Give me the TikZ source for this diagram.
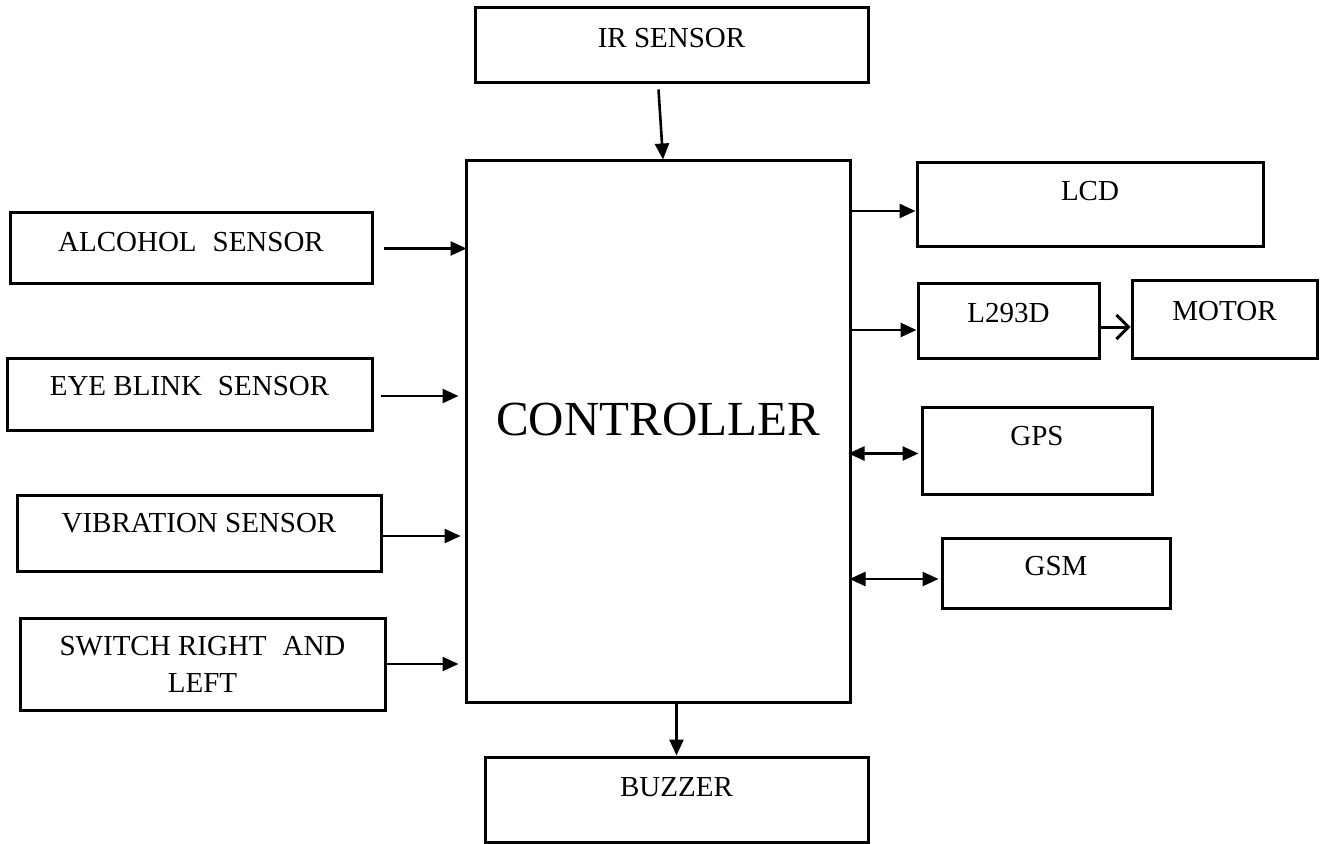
\documentclass[tikz,border=0pt]{standalone}
\usepackage{fontspec}
\setmainfont{Liberation Serif}
\usetikzlibrary{arrows.meta,fit,calc}

\tikzset{
  blk/.style={draw, line width=1.5pt, inner sep=0pt},
  txt/.style={font=\fontsize{14.5}{18.5}\selectfont, inner sep=0pt, align=center},
  arr/.style={line width=1.3pt, -{Triangle[length=8pt,width=7pt]}},
  darr/.style={line width=1.3pt, {Triangle[length=8pt,width=7pt]}-{Triangle[length=8pt,width=7pt]}},
  barb/.style={line width=1.5pt, -{Straight Barb[length=6pt,width=12pt]}}
}

\begin{document}
\begin{tikzpicture}[x=0.5pt, y=-0.5pt]
  \path[fill=white, use as bounding box] (0,0) rectangle (1320,844);
  % the controller in the middle
  \node[blk, fit={(466,161) (850,702)}] (ctrl) {};
  \node[txt, font=\fontsize{24.5}{29}\selectfont] (ctrl-t) at ([yshift=6pt]ctrl.center) {CONTROLLER};
  % inputs: top and left
  \node[blk, fit={(475,8) (868,83)}] (ir) {};
  \node[txt] (ir-t) at ([yshift=3.75pt]ir.center) {IR SENSOR};
  \node[blk, fit={(10,213) (372,284)}] (alc) {};
  \node[txt] (alc-t) at ([yshift=3pt]alc.center) {ALCOHOL\hspace{0.3em} SENSOR};
  \node[blk, fit={(7,358) (372,430)}] (eye) {};
  \node[txt] (eye-t) at ([yshift=3.75pt]eye.center) {EYE BLINK\hspace{0.3em} SENSOR};
  \node[blk, fit={(17,495) (381,571)}] (vib) {};
  \node[txt] (vib-t) at ([yshift=5pt]vib.center) {VIBRATION SENSOR};
  \node[blk, fit={(20,618) (385,710)}] (sw) {};
  \node[txt] (sw-t) at (sw.center) {SWITCH RIGHT\hspace{0.3em} AND\\LEFT};
  % outputs: right and bottom
  \node[blk, fit={(917,163) (1263,247)}] (lcd) {};
  \node[txt] (lcd-t) at ([yshift=7pt]lcd.center) {LCD};
  \node[blk, fit={(918,284) (1099,358)}] (drv) {};
  \node[txt] (drv-t) at ([yshift=3.75pt]drv.center) {L293D};
  \node[blk, fit={(1132,281) (1317,358)}] (mot) {};
  \node[txt] (mot-t) at ([yshift=4.25pt]mot.center) {MOTOR};
  \node[blk, fit={(922,407) (1152,494)}] (gps) {};
  \node[txt] (gps-t) at ([yshift=7.25pt]gps.center) {GPS};
  \node[blk, fit={(942,538) (1170,608)}] (gsm) {};
  \node[txt] (gsm-t) at ([yshift=3.5pt]gsm.center) {GSM};
  \node[blk, fit={(485,757) (868,842)}] (buz) {};
  \node[txt] (buz-t) at ([yshift=6pt]buz.center) {BUZZER};

  % arrow ends
  \coordinate (ir-out) at ($(ir.south)+(-13,5)$);
  \coordinate (ctrl-in) at ($(ctrl.north)+(5,0)$);
  \coordinate (eye-in) at ($(ctrl.west |- eye.east)+(-6,2)$);
  \coordinate (vib-out) at ($(vib.east)+(0,3)$);
  \coordinate (vib-in) at ($(ctrl.west |- vib-out)+(-4,0)$);
  \coordinate (sw-in) at ($(ctrl.west |- sw.east)+(-6,0)$);
  \coordinate (lcd-in) at ($(lcd.west)+(0,6)$);
  \coordinate (drv-in) at ($(drv.west)+(0,9)$);
  \coordinate (drv-out) at ($(drv.east)+(0,6)$);
  \coordinate (gps-in) at ($(gps.west)+(-2,3)$);
  \coordinate (gsm-in) at ($(gsm.west)+(-2,6)$);

  \draw[arr] (ir-out) -- (ctrl-in);
  \draw[arr] ($(alc.east)+(10,0)$) -- ($(ctrl.west |- alc.east)+(2,0)$);
  \draw[arr] ($(eye.east)+(7,2)$) -- (eye-in);
  \draw[arr] (vib-out) -- (vib-in);
  \draw[arr] (sw.east) -- (sw-in);
  \draw[arr] (ctrl.east |- lcd-in) -- (lcd-in);
  \draw[arr] (ctrl.east |- drv-in) -- (drv-in);
  \draw[barb] (drv-out) -- (mot.west |- drv-out);
  \draw[darr] ($(ctrl.east |- gps-in)+(-3,0)$) -- (gps-in);
  \draw[darr] ($(ctrl.east |- gsm-in)+(-2,0)$) -- (gsm-in);
  \draw[arr] (buz.north |- ctrl.south) -- (buz.north);
\end{tikzpicture}
\end{document}
